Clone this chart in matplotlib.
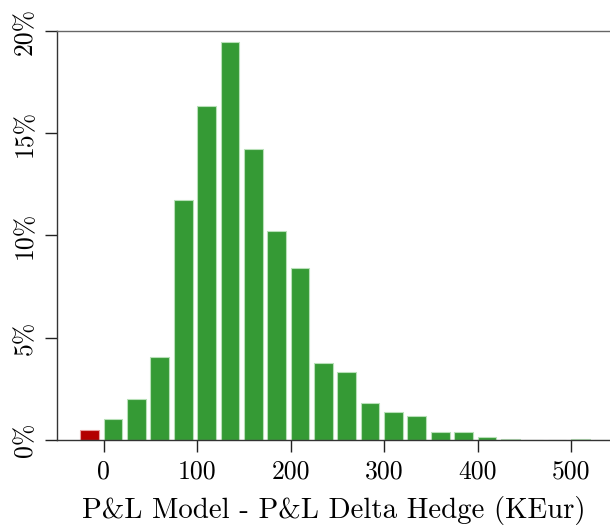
import numpy as np
import matplotlib
matplotlib.use('Agg')
import matplotlib.pyplot as plt

plt.rcParams['font.family'] = 'serif'
plt.rcParams['font.serif'] = ['cmr10', 'DejaVu Serif']
plt.rcParams['mathtext.fontset'] = 'cm'
plt.rcParams['axes.formatter.use_mathtext'] = True

# histogram of P&L difference, bins of 25 KEur, heights in percent
bin_left = [-25, 0, 25, 50, 75, 100, 125, 150, 175, 200, 225, 250, 275,
            300, 325, 350, 375, 400, 425, 450, 475, 500, 525]
pct = [0.47, 1.05, 2.02, 4.07, 11.72, 16.33, 19.44, 14.23, 10.2, 8.41, 3.75,
       3.31, 1.81, 1.37, 1.16, 0.37, 0.37, 0.13, 0.06, 0.02, 0.02, 0.06, 0.02]
x_ticks = [0, 100, 200, 300, 400, 500]
y_ticks = [0, 5, 10, 15, 20]
y_labels = ['0%', '5%', '10%', '15%', '20%']

colors = ['#b30000' if b < 0 else '#359a35' for b in bin_left]
edges = ['#e8a0a0' if b < 0 else '#b8e0b8' for b in bin_left]

fig = plt.figure(figsize=(6.1, 5.27), dpi=100)
ax = fig.add_axes([57 / 610, 1 - 440 / 527, 1 - 57 / 610, (440 - 31) / 527])

ax.bar(bin_left, pct, width=20, align='edge', color=colors,
       edgecolor=edges, linewidth=0.8)

ax.set_xlim(-50, 541.7)
ax.set_ylim(0, 20)
ax.set_xticks(x_ticks)
ax.set_xticklabels([str(t) for t in x_ticks], fontsize=18.5)
ax.set_yticks(y_ticks)
ax.set_yticklabels(y_labels, fontsize=18.5, rotation=90, va='center')
ax.tick_params(axis='both', direction='out', length=8.5, width=1, color='#222222', pad=6)

ax.spines['right'].set_visible(False)
ax.spines['top'].set_color('#666666')
ax.spines['left'].set_color('#333333')
ax.spines['bottom'].set_color('#333333')
for s in ax.spines.values():
    s.set_linewidth(1)

ax.set_xlabel('P&L Model - P&L Delta Hedge (KEur)', fontsize=20.8, labelpad=9)

fig.savefig('out.png', dpi=100)
